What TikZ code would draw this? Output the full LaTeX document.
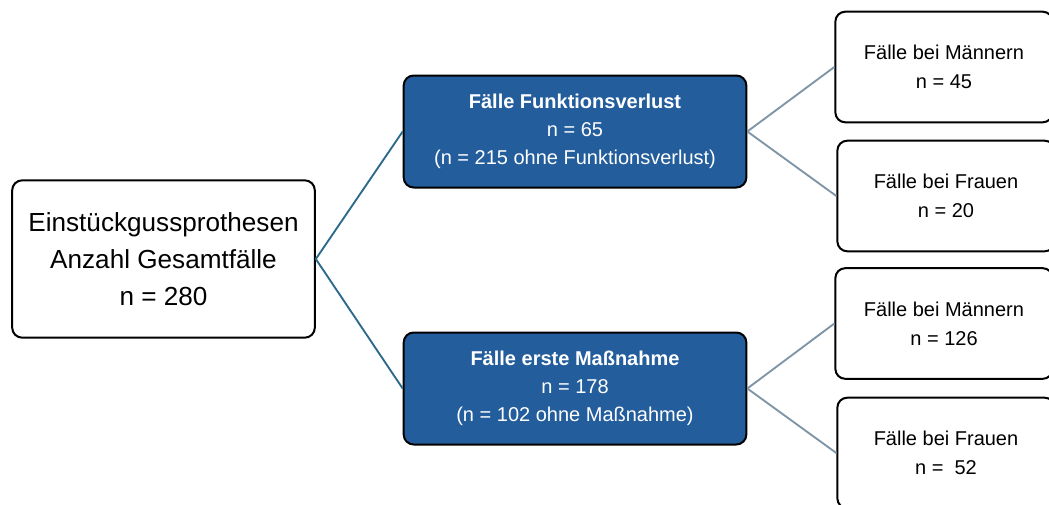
\documentclass[tikz,border=0pt]{standalone}
\usepackage{fontspec}
\setmainfont{Liberation Sans}
\definecolor{boxblue}{HTML}{235D9C}
\definecolor{linkA}{HTML}{2B6A8A}
\definecolor{linkB}{HTML}{7F95A6}
\begin{document}
\begin{tikzpicture}[x=0.75pt,y=-0.75pt,
  whitebox/.style={draw=black, line width=1.5pt, fill=white, rounded corners=7.5pt, align=center, inner sep=0pt},
  bluebox/.style={draw=black, line width=1.5pt, fill=boxblue, text=white, rounded corners=7.5pt, align=center, inner sep=0pt,
    minimum width=257pt, minimum height=84pt, font=\fontsize{15}{21}\selectfont},
  rightbox/.style={whitebox, minimum width=163pt, minimum height=83pt, font=\fontsize{15}{21.75}\selectfont},
  linkone/.style={draw=linkA, line width=1.4pt},
  linktwo/.style={draw=linkB, line width=1.4pt}]
\useasboundingbox (0,0) rectangle (1049,504);
\clip (0,0) rectangle (1049,504);
\fill[white] (0,0) rectangle (1049,504);

\node[whitebox, minimum width=227pt, minimum height=118pt, font=\fontsize{19.6}{28}\selectfont] (root) at (163.5,259)
  {Einstückgussprothesen\\Anzahl Gesamtfälle\\n = 280};

\node[bluebox] (fv) at (575,131.5)
  {\textbf{Fälle Funktionsverlust}\\n = 65\\(n = 215 ohne Funktionsverlust)};
\node[bluebox] (em) at (575,388.5)
  {\textbf{Fälle erste Maßnahme}\\n = 178\\(n = 102 ohne Maßnahme)};

\node[rightbox] (m1) at (944,67) {Fälle bei Männern\\n = 45};
\node[rightbox] (f1) at (946,196) {Fälle bei Frauen\\n = 20};
\node[rightbox] (m2) at (944,323.5) {Fälle bei Männern\\n = 126};
\node[rightbox] (f2) at (946,453) {Fälle bei Frauen\\n = \ 52};

\draw[linkone] (root.east) -- (fv.west);
\draw[linkone] (root.east) -- (em.west);
\draw[linktwo] (fv.east) -- (m1.west);
\draw[linktwo] (fv.east) -- (f1.west);
\draw[linktwo] (em.east) -- (m2.west);
\draw[linktwo] (em.east) -- (f2.west);
\end{tikzpicture}
\end{document}
